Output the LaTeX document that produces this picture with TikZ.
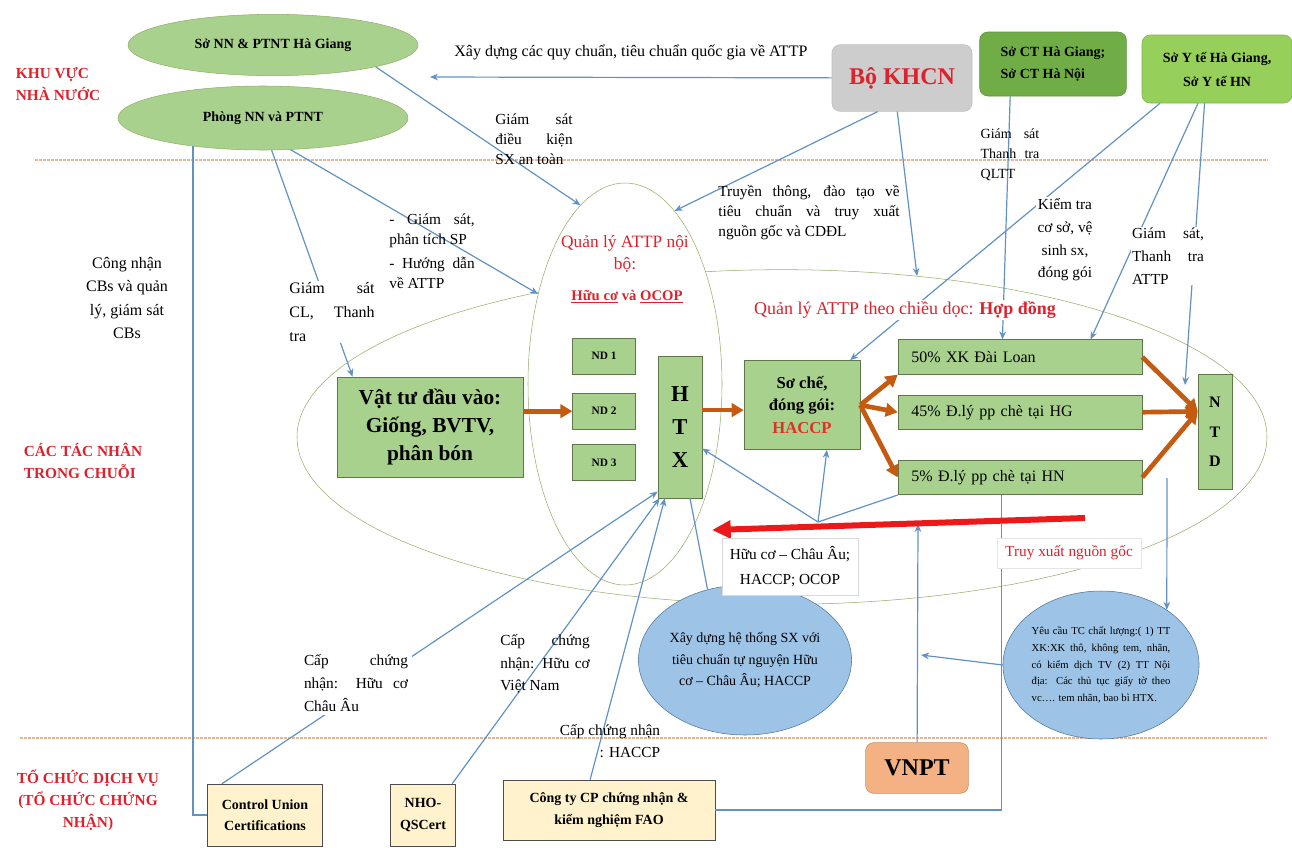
\documentclass[tikz,border=0pt]{standalone}
\usepackage{fontspec}
\setmainfont{Liberation Serif}
\usepackage{tikz}
\usetikzlibrary{shapes.geometric,arrows.meta,positioning}

\definecolor{boxgreen}{RGB}{169,209,142}
\definecolor{boxline}{RGB}{95,120,75}
\definecolor{ellgreen}{RGB}{169,209,142}
\definecolor{ctgreen}{RGB}{112,173,71}
\definecolor{ytgreen}{RGB}{150,208,90}
\definecolor{khcngray}{RGB}{205,205,205}
\definecolor{vnptorange}{RGB}{244,177,131}
\definecolor{ellblue}{RGB}{157,195,230}
\definecolor{cream}{RGB}{255,242,204}
\definecolor{lineblue}{RGB}{96,146,196}
\definecolor{arrowora}{RGB}{197,90,17}
\definecolor{labelred}{RGB}{220,35,45}
\definecolor{arrowred}{RGB}{235,25,25}
\definecolor{rimgreen}{RGB}{150,175,105}
\definecolor{sepline}{RGB}{232,180,150}

\begin{document}
\begin{tikzpicture}[x=0.75pt,y=-0.75pt,font=\fontsize{11.5}{15}\selectfont]
  \tikzstyle{box}=[draw=boxline,fill=boxgreen,inner sep=2pt,align=center]
  \tikzstyle{farm}=[box,minimum width=47pt,minimum height=27pt,font=\fontsize{8.5}{10}\selectfont\bfseries]
  \tikzstyle{market}=[box,inner xsep=10pt,text width=163pt,minimum height=26pt,align=left,font=\fontsize{12}{14}\selectfont]
  \tikzstyle{cert}=[draw=black!70,fill=cream,align=center,minimum height=46.5pt,font=\fontsize{10.5}{16}\selectfont\bfseries]
  \tikzstyle{oval}=[ellipse,draw=rimgreen,fill=ellgreen,inner sep=0pt,font=\fontsize{10.5}{13}\selectfont\bfseries]
  \tikzstyle{bubble}=[ellipse,draw=lineblue!80!black,fill=ellblue,inner sep=0pt,align=center]
  \tikzstyle{ring}=[ellipse,draw=rimgreen,inner sep=0pt]
  \tikzstyle{note}=[inner sep=1pt,align=justify]
  \tikzstyle{side}=[text=labelred,align=left,font=\fontsize{11.5}{16.5}\selectfont\bfseries]
  \tikzstyle{ctrl}=[color=lineblue,line width=0.9pt,-{Stealth[length=6pt,width=5pt]}]
  \tikzstyle{link}=[color=lineblue,line width=0.9pt]
  \tikzstyle{flow}=[color=arrowora,line width=3.5pt,-{Triangle[length=9pt,width=10pt]}]

  \useasboundingbox (0,0) rectangle (1292,847);

  \draw[sepline,line width=1pt,dash pattern=on 2pt off 1pt] (35,160) -- (1268,160);
  \draw[sepline,line width=1pt,dash pattern=on 2pt off 1pt] (20,738) -- (1268,738);

  \node[ring,minimum width=727.5pt,minimum height=251pt] (doc) at (782,437) {};
  \node[ring,fill=white,minimum width=145.5pt,minimum height=301.5pt] (noi_bo) at (625,384) {};

  \node[side] (kv_nn) at (58,84) {KHU VỰC\\NHÀ NƯỚC};
  \node[side] (kv_tn) at (83,461) {CÁC TÁC NHÂN\\TRONG CHUỖI};
  \node[side,align=center] (kv_dv) at (88,800) {TỔ CHỨC DỊCH VỤ\\(TỔ CHỨC CHỨNG\\NHẬN)};

  \node[oval,minimum width=217.5pt,minimum height=46pt] (so_nn) at (273,45) {Sở NN \& PTNT Hà Giang};
  \node[oval,minimum width=217.5pt,minimum height=48pt] (phong_nn) at (263,118) {Phòng NN và PTNT};
  \node[rounded corners=6pt,draw=black!25,fill=khcngray,minimum width=105pt,minimum height=50pt,text=labelred,font=\fontsize{18}{20}\selectfont\bfseries] (bo_khcn) at (902,78) {Bộ KHCN};
  \node[rounded corners=6pt,draw=ctgreen!85!black,fill=ctgreen,minimum width=110pt,minimum height=48pt,align=left,font=\fontsize{10.5}{16}\selectfont\bfseries] (so_ct) at (1053,64) {Sở CT Hà Giang;\\Sở CT Hà Nội};
  \node[rounded corners=6pt,draw=ytgreen!85!black,fill=ytgreen,minimum width=112.5pt,minimum height=51pt,align=center,font=\fontsize{10.5}{18}\selectfont\bfseries] (so_yte) at (1217,69) {Sở Y tế Hà Giang,\\Sở Y tế HN};

  \node[box,minimum width=139.5pt,minimum height=75pt,font=\fontsize{16}{21}\selectfont\bfseries] (vat_tu) at (430,427) {Vật tư đầu vào:\\Giống, BVTV,\\phân bón};
  \node[farm] (nd_1) at (604,356) {ND 1};
  \node[farm] (nd_2) [below=14pt of nd_1] {ND 2};
  \node[farm] (nd_3) [below=11pt of nd_2] {ND 3};
  \node[box,minimum width=33pt,minimum height=106.5pt,font=\fontsize{17}{25}\selectfont\bfseries] (htx) at (680,427) {H\\T\\X};
  \node[box,minimum width=87pt,minimum height=67pt,font=\fontsize{12.5}{17}\selectfont\bfseries] (so_che) at (802,405) {Sơ chế,\\đóng gói:\\\textcolor{labelred!85!orange}{HACCP}};
  \node[market] (xk_50) at (1020,357) {50\% XK Đài Loan};
  \node[market] (hg_45) [below=15pt of xk_50] {45\% Đ.lý pp chè tại HG};
  \node[market] (hn_5) [below=22.5pt of hg_45] {5\% Đ.lý pp chè tại HN};
  \node[box,minimum width=25.5pt,minimum height=86pt,font=\fontsize{12}{22}\selectfont\bfseries] (ntd) at (1215,432) {N\\T\\D};

  \node[bubble,minimum width=157.5pt,minimum height=112.5pt,font=\fontsize{10.5}{16}\selectfont] (xd_ht) at (745,660) {Xây dựng hệ thống SX với\\tiêu chuẩn tự nguyện Hữu\\cơ – Châu Âu; HACCP};
  \node[bubble,minimum width=146pt,minimum height=111pt,text width=104pt,align=justify,font=\fontsize{8}{12.5}\selectfont] (yc_tc) at (1101,665) {Yêu cầu TC chất lượng:( 1) TT\linebreak XK:XK thô, không tem, nhãn,\linebreak có kiểm dịch TV (2) TT Nội\linebreak địa: Các thủ tục giấy tờ theo\linebreak vc…. tem nhãn, bao bì HTX.};
  \node[rounded corners=6pt,draw=vnptorange!80!black,fill=vnptorange,minimum width=77pt,minimum height=38pt,font=\fontsize{18}{20}\selectfont\bfseries] (vnpt) at (917,768) {VNPT};

  \node[cert,minimum width=86pt] (cu) at (265,815) {Control Union\\Certifications};
  \node[cert,minimum width=49pt] (nho) at (423,815) {NHO-\\QSCert};
  \node[cert,minimum width=159pt,minimum height=45pt] (fao) at (609,810) {Công ty CP chứng nhận \&\\kiểm nghiệm FAO};

  \coordinate (c_qc) at (430,77);
  \coordinate (c_hc) at (818,522);
  \coordinate (c_vnpt) at (918,524);
  \coordinate (c_yc) at (921,655);
  \coordinate (c_ntd) at (1185,385);
  \coordinate (c_tx) at (1167,478);
  \coordinate (tx_from) at (1085,518);
  \coordinate (tx_to) at (712,530);

  \path[ctrl]
    (bo_khcn) edge node[above=9pt,text=black,font=\fontsize{12}{14}\selectfont] {Xây dựng các quy chuẩn, tiêu chuẩn quốc gia về ATTP} (c_qc)
    (bo_khcn.234) edge (noi_bo.74)
    (bo_khcn.262) edge (doc.50)
    (so_nn.south east) edge (noi_bo.104)
    (phong_nn.311) edge (noi_bo.134)
    (phong_nn.285) edge (vat_tu.147)
    (so_ct.217) edge (xk_50.135)
    (so_yte.211) edge (so_che.43)
    (so_yte.241) edge (xk_50.14)
    (so_yte.250) edge (c_ntd)
    (cu.144) edge (htx.251)
    (nho.47) edge (htx.254)
    (fao.122) edge (htx.258)
    (c_hc) edge (htx.316)
    (c_hc) edge (so_che.299)
    (vnpt) edge (c_vnpt)
    (yc_tc.180) edge (c_yc)
    (c_tx) edge (yc_tc.40);
  \draw[link] (phong_nn.202) |- (cu.west);
  \draw[link] (hn_5.224) |- (fao.east);
  \path[link]
    (c_hc) edge (hn_5.south west)
    (htx.278) edge (xd_ht.118);

  \path[flow]
    (vat_tu.east |- nd_2) edge (nd_2.west)
    (htx.east |- so_che.185) edge (so_che.185)
    (so_che.east) edge (xk_50.south west)
    (so_che.east) edge (hg_45.west)
    (so_che.east) edge (hn_5.west)
    (xk_50.east) edge (ntd.130)
    (hg_45.east) edge (ntd.130)
    (hn_5.east) edge (ntd.130);
  \draw[arrowred,line width=4.5pt,-{Triangle[length=14pt,width=13pt]}] (tx_from) -- (tx_to);

  \node[text=labelred,align=center,font=\fontsize{13}{16.5}\selectfont] (t_noibo) at (625,254) {Quản lý ATTP nội\\bộ:};
  \node[text=labelred,font=\fontsize{11}{13}\selectfont\bfseries] (t_huuco) at (627,297) {\underline{Hữu cơ} và \underline{OCOP}};
  \node[fill=white,inner sep=1pt,text=labelred,font=\fontsize{13.5}{16}\selectfont] (t_doc) at (905,310) {Quản lý ATTP theo chiều dọc: \textbf{Hợp đồng}};

  \node[note,text width=58pt] (lb_dk) at (534,139) {Giám sát\linebreak điều kiện\linebreak SX an toàn};
  \node[note,text width=136pt] (lb_tt) at (809,213) {Truyền thông, đào tạo về\linebreak tiêu chuẩn và truy xuất\linebreak nguồn gốc và CDĐL};
  \node[note,text width=44pt,font=\fontsize{10.5}{15}\selectfont] (lb_ct) at (1010,155) {Giám sát\linebreak Thanh tra\linebreak QLTT};
  \node[fill=white,align=center,inner sep=1pt,font=\fontsize{11.5}{17}\selectfont] (lb_kt) at (1065,240) {Kiểm tra\\cơ sở, vệ\\sinh sx,\\đóng gói};
  \node[note,fill=white,text width=54pt,font=\fontsize{11.5}{17}\selectfont] (lb_gs) at (1168,256) {Giám sát,\linebreak Thanh tra\linebreak ATTP};
  \node[align=center,font=\fontsize{12}{17.5}\selectfont] (lb_cb) at (127,298) {Công nhận\\CBs và quản\\lý, giám sát\\CBs};
  \node[note,fill=white,text width=64pt,font=\fontsize{12}{18}\selectfont] (lb_cl) at (332,312) {Giám sát\linebreak CL, Thanh\linebreak tra};
  \node[note,text width=64pt] (lb_pt) at (432,251) {- Giám sát,\linebreak phân tích SP\par\smallskip - Hướng dẫn\linebreak về ATTP};
  \node[note,fill=white,text width=78pt,inner sep=3pt,font=\fontsize{11.5}{17}\selectfont] (lb_cu) at (356,683) {Cấp chứng\linebreak nhận: Hữu cơ\linebreak Châu Âu};
  \node[note,text width=67pt,font=\fontsize{11.5}{17}\selectfont] (lb_vn) at (545,664) {Cấp chứng\linebreak nhận: Hữu cơ\linebreak Việt Nam};
  \node[align=right,font=\fontsize{11.5}{16.5}\selectfont] (lb_haccp) at (610,741) {Cấp chứng nhận\\: HACCP};
  \node[draw=black!15,fill=white,align=center,inner sep=6pt,font=\fontsize{11.5}{18.75}\selectfont] (lb_hc) at (790,567) {Hữu cơ – Châu Âu;\\HACCP; OCOP};
  \node[draw=black!10,fill=white,text=labelred,inner sep=6pt] (lb_truy) at (1069,553) {Truy xuất nguồn gốc};
\end{tikzpicture}
\end{document}
